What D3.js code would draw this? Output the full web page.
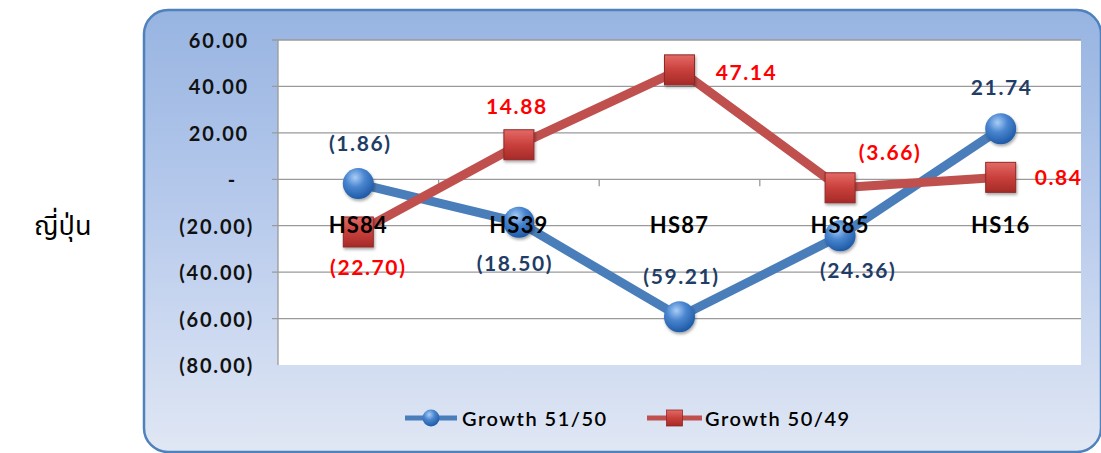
<!DOCTYPE html>
<html>
<head>
<meta charset="utf-8">
<script src="https://cdn.jsdelivr.net/npm/d3@7"></script>
<style>
  body { margin: 0; background: #fff; }
  svg { display: block; font-family: Lato, "Open Sans", sans-serif; }
</style>
</head>
<body>
<svg id="chart" width="1101" height="453"></svg>
<script>
const categories = ["HS84", "HS39", "HS87", "HS85", "HS16"];
const growth5150 = [-1.86, -18.50, -59.21, -24.36, 21.74];
const growth5049 = [-22.70, 14.88, 47.14, -3.66, 0.84];
const yTicks = [60, 40, 20, 0, -20, -40, -60, -80];
const seriesNames = ["Growth 51/50", "Growth 50/49"];
const countryLabel = "ญี่ปุ่น";

// where each data label sits relative to its point
const blueLabelPos = [[2, -41], [-4, 40], [2, -41], [18, 34], [1, -42]];
const redLabelPos = [[10, 35], [-2, -39], [67, 2], [50, -36], [58, -1]];

const width = 1101;
const height = 453;
const plot = {left: 278, right: 1081, top: 40, bottom: 365};

const svg = d3.select("#chart");
const defs = svg.append("defs");

// panel gradient
const pg = defs.append("linearGradient").attr("id", "panelGrad")
    .attr("x1", 0).attr("y1", 0).attr("x2", 0).attr("y2", 1);
pg.append("stop").attr("offset", "0%").attr("stop-color", "#97b4e1");
pg.append("stop").attr("offset", "45%").attr("stop-color", "#b7caec");
pg.append("stop").attr("offset", "100%").attr("stop-color", "#e0e7f4");

// blue ball
const bg = defs.append("radialGradient").attr("id", "ballGrad")
    .attr("cx", "40%").attr("cy", "30%").attr("r", "70%");
bg.append("stop").attr("offset", "0%").attr("stop-color", "#a9cdf5");
bg.append("stop").attr("offset", "45%").attr("stop-color", "#4a86d0");
bg.append("stop").attr("offset", "100%").attr("stop-color", "#1f5aa6");

// red box
const rg = defs.append("linearGradient").attr("id", "boxGrad")
    .attr("x1", 0).attr("y1", 0).attr("x2", 0).attr("y2", 1);
rg.append("stop").attr("offset", "0%").attr("stop-color", "#e36a66");
rg.append("stop").attr("offset", "50%").attr("stop-color", "#c9403c");
rg.append("stop").attr("offset", "100%").attr("stop-color", "#a52a27");

const sh = defs.append("filter").attr("id", "shadow")
    .attr("x", "-30%").attr("y", "-30%").attr("width", "170%").attr("height", "170%");
sh.append("feDropShadow").attr("dx", 1).attr("dy", 2).attr("stdDeviation", 1.5)
    .attr("flood-color", "#000").attr("flood-opacity", 0.35);

// country label on the left
svg.append("text")
    .attr("x", 34).attr("y", 226)
    .attr("dominant-baseline", "central")
    .attr("font-size", 27)
    .attr("font-family", "'Noto Sans Thai', 'Noto Sans', 'DejaVu Sans', sans-serif")
    .attr("fill", "#000")
    .text(countryLabel);

// chart panel
svg.append("rect")
    .attr("x", 144).attr("y", 10)
    .attr("width", 957).attr("height", 442)
    .attr("rx", 24).attr("ry", 24)
    .attr("fill", "url(#panelGrad)")
    .attr("stroke", "#4f81bd")
    .attr("stroke-width", 2.5);

svg.append("rect")
    .attr("x", plot.left).attr("y", plot.top)
    .attr("width", plot.right - plot.left)
    .attr("height", plot.bottom - plot.top)
    .attr("fill", "#fff");

const x = d3.scaleBand()
    .domain(categories)
    .range([plot.left, plot.right]);

const y = d3.scaleLinear()
    .domain([-80, 60])
    .range([plot.bottom, plot.top]);

// gridlines
svg.append("g")
    .selectAll("line")
    .data(yTicks.filter(d => d !== -80))
    .enter()
    .append("line")
    .attr("x1", plot.left - 6).attr("x2", plot.right)
    .attr("y1", d => y(d)).attr("y2", d => y(d))
    .attr("stroke", "#9a9a9a")
    .attr("stroke-width", 1.3);

// y axis line
svg.append("line")
    .attr("x1", plot.left).attr("x2", plot.left)
    .attr("y1", plot.top).attr("y2", plot.bottom)
    .attr("stroke", "#9a9a9a").attr("stroke-width", 1.3);

// category boundary ticks on the zero line
svg.append("g")
    .selectAll("line")
    .data(categories.slice(1))
    .enter()
    .append("line")
    .attr("x1", d => x(d)).attr("x2", d => x(d))
    .attr("y1", y(0)).attr("y2", y(0) + 7)
    .attr("stroke", "#9a9a9a").attr("stroke-width", 1.3);

const fmt = v => v === 0 ? "-" : v < 0 ? `(${d3.format(".2f")(-v)})` : d3.format(".2f")(v);

// y tick labels (accounting style)
svg.append("g")
    .selectAll("text")
    .data(yTicks)
    .enter()
    .append("text")
    .attr("x", d => d === 0 ? 237 : d > 0 ? 249 : 254)
    .attr("y", d => y(d))
    .attr("dominant-baseline", "central")
    .attr("text-anchor", "end")
    .attr("font-size", 20)
    .attr("font-weight", "bold")
    .attr("letter-spacing", 1.8)
    .attr("fill", "#111")
    .text(fmt);

const line = d3.line()
    .x((d, i) => x(categories[i]) + x.bandwidth() / 2)
    .y(d => y(d));

svg.append("path")
    .datum(growth5150)
    .attr("d", line)
    .attr("fill", "none")
    .attr("stroke", "#4a7ebb")
    .attr("stroke-width", 9)
    .attr("stroke-linejoin", "round");

svg.append("path")
    .datum(growth5049)
    .attr("d", line)
    .attr("fill", "none")
    .attr("stroke", "#c0504d")
    .attr("stroke-width", 9)
    .attr("stroke-linejoin", "round");

// markers
svg.append("g")
    .selectAll("circle")
    .data(growth5150)
    .enter()
    .append("circle")
    .attr("cx", (d, i) => x(categories[i]) + x.bandwidth() / 2)
    .attr("cy", d => y(d))
    .attr("r", 15.5)
    .attr("fill", "url(#ballGrad)")
    .attr("filter", "url(#shadow)");

svg.append("g")
    .selectAll("rect")
    .data(growth5049)
    .enter()
    .append("rect")
    .attr("x", (d, i) => x(categories[i]) + x.bandwidth() / 2 - 15)
    .attr("y", d => y(d) - 15)
    .attr("width", 30).attr("height", 30)
    .attr("fill", "url(#boxGrad)")
    .attr("stroke", "#8e2a27")
    .attr("stroke-width", 1)
    .attr("filter", "url(#shadow)");

// category labels (drawn over the markers)
svg.append("g")
    .selectAll("text")
    .data(categories)
    .enter()
    .append("text")
    .attr("x", d => x(d) + x.bandwidth() / 2)
    .attr("y", y(0) + 45)
    .attr("dominant-baseline", "central")
    .attr("text-anchor", "middle")
    .attr("font-size", 22)
    .attr("font-weight", "bold")
    .attr("letter-spacing", 1.2)
    .attr("fill", "#000")
    .text(d => d);

// data labels
svg.append("g")
    .selectAll("text")
    .data(growth5150)
    .enter()
    .append("text")
    .attr("x", (d, i) => x(categories[i]) + x.bandwidth() / 2 + blueLabelPos[i][0])
    .attr("y", (d, i) => y(d) + blueLabelPos[i][1])
    .attr("dominant-baseline", "central")
    .attr("text-anchor", "middle")
    .attr("font-size", 21)
    .attr("font-weight", "bold")
    .attr("letter-spacing", 1.6)
    .attr("fill", "#1f3d66")
    .text(fmt);

svg.append("g")
    .selectAll("text")
    .data(growth5049)
    .enter()
    .append("text")
    .attr("x", (d, i) => x(categories[i]) + x.bandwidth() / 2 + redLabelPos[i][0])
    .attr("y", (d, i) => y(d) + redLabelPos[i][1])
    .attr("dominant-baseline", "central")
    .attr("text-anchor", "middle")
    .attr("font-size", 21)
    .attr("font-weight", "bold")
    .attr("letter-spacing", 1.6)
    .attr("fill", "#ff0000")
    .text(fmt);

// legend
const legend = svg.append("g").attr("transform", "translate(0,418)");

const lg1 = legend.append("g").attr("transform", "translate(405,0)");
lg1.append("line").attr("x1", 0).attr("x2", 52)
    .attr("stroke", "#4a7ebb").attr("stroke-width", 5);
lg1.append("circle").attr("cx", 26).attr("r", 8.5)
    .attr("fill", "url(#ballGrad)");
lg1.append("text").attr("x", 57)
    .attr("dominant-baseline", "central")
    .attr("font-size", 20)
    .attr("font-weight", 600)
    .attr("letter-spacing", 1.5)
    .attr("fill", "#000")
    .text(seriesNames[0]);

const lg2 = legend.append("g").attr("transform", "translate(647,0)");
lg2.append("line").attr("x1", 0).attr("x2", 55)
    .attr("stroke", "#c0504d").attr("stroke-width", 5);
lg2.append("rect").attr("x", 19.5).attr("y", -8).attr("width", 16).attr("height", 16)
    .attr("fill", "url(#boxGrad)").attr("stroke", "#8e2a27").attr("stroke-width", 0.8);
lg2.append("text").attr("x", 58)
    .attr("dominant-baseline", "central")
    .attr("font-size", 20)
    .attr("font-weight", 600)
    .attr("letter-spacing", 1.5)
    .attr("fill", "#000")
    .text(seriesNames[1]);
</script>
</body>
</html>
